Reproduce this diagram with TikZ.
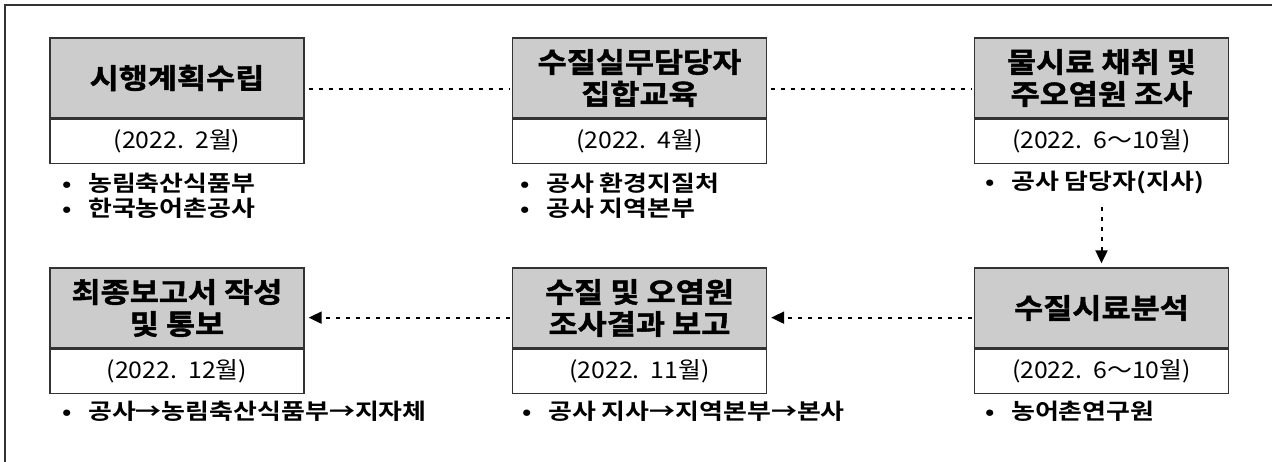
\documentclass[tikz,border=0pt]{standalone}
\usepackage{fontspec}
\setmainfont{Noto Sans CJK KR}
\newfontfamily\krt{Noto Sans CJK KR Bold}[FakeStretch=1.13, FakeBold=1.5]
\newfontfamily\krb{Noto Sans CJK KR Bold}[FakeStretch=1.18]
\newfontfamily\krr{Noto Sans CJK KR}[FakeStretch=1.08]
\usetikzlibrary{arrows.meta,calc}
\definecolor{boxgray}{HTML}{CCCCCC}
\definecolor{edge}{HTML}{333333}
\tikzset{
  title/.style={draw=edge, line width=1.3pt, fill=boxgray, minimum width=254pt, minimum height=80pt,
    inner sep=0pt, align=center, font=\krt\fontsize{28}{32}\selectfont},
  date/.style={draw=edge, line width=1.3pt, fill=white, minimum width=254pt, minimum height=44pt,
    inner sep=0pt, font=\krr\fontsize{23}{26}\selectfont},
  item/.style={anchor=west, inner sep=0pt, font=\krb\fontsize{22}{24}\selectfont},
  dotline/.style={line width=2pt, dash pattern=on 4pt off 6pt, draw=black},
  dotarrow/.style={dotline, -{Triangle[length=13pt,width=12pt]}},
}
\newcommand{\bul}[1]{\makebox[26pt][l]{\fontsize{21}{21}\selectfont •}#1}
\begin{document}
\begin{tikzpicture}[x=1pt,y=-1pt]
\useasboundingbox (0,0) rectangle (1272,462);
% frame
\draw[draw=edge, line width=2pt] (5,462) -- (5,5) -- (1272,5);

% row 1
\node[title] (t1) at (177,78) {시행계획수립};
\node[date, anchor=north] (d1) at (t1.south) {(2022.\ \ 2월)};
\node[title] (t2) at (639.5,78) {수질실무담당자\\집합교육};
\node[date, anchor=north] (d2) at (t2.south) {(2022.\ \ 4월)};
\node[title] (t3) at (1101.5,78) {물시료 채취 및\\주오염원 조사};
\node[date, anchor=north] (d3) at (t3.south) {(2022.\ \ 6～10월)};

% row 2
\node[title] (t4) at (177,308) {최종보고서 작성\\및 통보};
\node[date, anchor=north] (d4) at (t4.south) {(2022.\ \ 12월)};
\node[title] (t5) at (639.5,308) {수질 및 오염원\\조사결과 보고};
\node[date, anchor=north] (d5) at (t5.south) {(2022.\ \ 11월)};
\node[title] (t6) at (1101.5,308) {수질시료분석};
\node[date, anchor=north] (d6) at (t6.south) {(2022.\ \ 6～10월)};

% bullet items
\node[item] (b1a) at (62,183) {\bul{농림축산식품부}};
\node[item] (b1b) at (62,208) {\bul{한국농어촌공사}};
\node[item] (b2a) at (520,183) {\bul{공사 환경지질처}};
\node[item] (b2b) at (520,208) {\bul{공사 지역본부}};
\node[item] (b3a) at (985,183) {\bul{공사 담당자(지사)}};
\node[item] (b4a) at (62,411) {\bul{공사→농림축산식품부→지자체}};
\node[item] (b5a) at (522,411) {\bul{공사 지사→지역본부→본사}};
\node[item] (b6a) at (985,411) {\bul{농어촌연구원}};

% connectors row 1
\draw[dotline] ($(t1.south east)+(4,-30)$) -- ($(t2.south west)+(-2,-30)$);
\draw[dotline] ($(t2.south east)+(4,-30)$) -- ($(t3.south west)+(-2,-30)$);
% vertical
\coordinate (vs) at ($(d3.south)+(0,43)$);
\draw[dotarrow] (vs) -- ($(t6.north)+(0,-4)$);
% row 2
\draw[dotarrow] ($(t6.south west)+(-2,-31)$) -- ($(t5.south east)+(4,-31)$);
\draw[dotarrow] ($(t5.south west)+(-2,-31)$) -- ($(t4.south east)+(4,-31)$);
\end{tikzpicture}
\end{document}
